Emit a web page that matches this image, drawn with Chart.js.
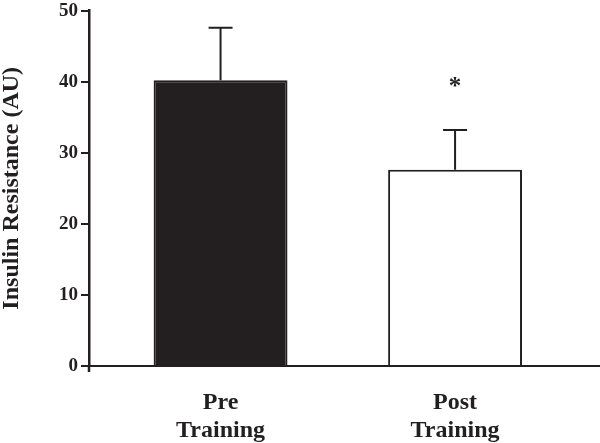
<!DOCTYPE html>
<html>
<head>
<meta charset="utf-8">
<script src="https://cdn.jsdelivr.net/npm/chart.js@4"></script>
<style>
  body { margin: 0; background: #fff; }
  #wrap { width: 600px; height: 443px; }
</style>
</head>
<body>
<div id="wrap"><canvas id="myChart"></canvas></div>
<script>
const categories = [['Pre', 'Training'], ['Post', 'Training']];
const values = [40.2, 27.6];
const errors = [7.4, 5.6];
const marks = ['', '*'];
const markY = [null, 39.5];
const yTicks = [0, 10, 20, 30, 40, 50];

const ink = '#231f20';
const serif = 'Liberation Serif, Times New Roman, serif';

const errorBars = {
  id: 'errorBars',
  afterDatasetsDraw(chart) {
    const { ctx, scales: { x, y } } = chart;
    ctx.save();
    ctx.strokeStyle = ink;
    ctx.lineWidth = 2;
    values.forEach((v, i) => {
      const px = x.getPixelForValue(i + 1);
      const top = y.getPixelForValue(v + errors[i]);
      ctx.beginPath();
      ctx.moveTo(px, y.getPixelForValue(v));
      ctx.lineTo(px, top);
      ctx.moveTo(px - 12, top);
      ctx.lineTo(px + 12, top);
      ctx.stroke();
    });
    // little stub of the y axis below zero
    ctx.lineWidth = 2.5;
    ctx.beginPath();
    ctx.moveTo(x.left, y.bottom);
    ctx.lineTo(x.left, y.bottom + 6);
    ctx.stroke();

    ctx.fillStyle = ink;
    ctx.font = 'bold 25px ' + serif;
    ctx.textAlign = 'center';
    ctx.textBaseline = 'middle';
    marks.forEach((m, i) => {
      if (!m) return;
      ctx.fillText(m, x.getPixelForValue(i + 1), y.getPixelForValue(markY[i]) + 2);
    });
    ctx.restore();
  }
};

new Chart(document.getElementById('myChart'), {
  type: 'bar',
  data: {
    datasets: [{
      data: values.map((v, i) => ({ x: i + 1, y: v })),
      backgroundColor: [ink, '#ffffff'],
      borderColor: ink,
      borderWidth: 2,
      barPercentage: 0.571,
      categoryPercentage: 1
    }]
  },
  options: {
    responsive: true,
    maintainAspectRatio: false,
    animation: false,
    layout: { padding: 0 },
    plugins: { legend: { display: false }, tooltip: { enabled: false } },
    scales: {
      x: {
        type: 'linear',
        min: 0.439,
        max: 2.618,
        offset: false,
        afterBuildTicks: s => { s.ticks = categories.map((c, i) => ({ value: i + 1 })); },
        afterFit: s => { s.height = 77; },
        ticks: {
          callback: (val) => categories[val - 1],
          color: ink,
          padding: 22,
          maxRotation: 0,
          font: { family: serif, size: 24, weight: 'bold' }
        },
        grid: { offset: false, drawOnChartArea: false, drawTicks: false },
        border: { display: true, color: ink, width: 2 }
      },
      y: {
        min: 0,
        max: 50,
        afterBuildTicks: s => { s.ticks = yTicks.map(v => ({ value: v })); },
        afterFit: s => { s.width = 89; },
        ticks: {
          color: ink,
          padding: 3,
          font: { family: serif, size: 19, weight: 'bold', lineHeight: 0.8 }
        },
        grid: { drawOnChartArea: false, drawTicks: true, tickLength: 8, color: ink, lineWidth: 2 },
        border: { display: true, color: ink, width: 2.5 },
        title: {
          display: true,
          text: 'Insulin Resistance (AU)',
          color: ink,
          padding: 0,
          font: { family: serif, size: 24, weight: 'bold', lineHeight: 1 }
        }
      }
    }
  },
  plugins: [errorBars]
});
</script>
</body>
</html>
